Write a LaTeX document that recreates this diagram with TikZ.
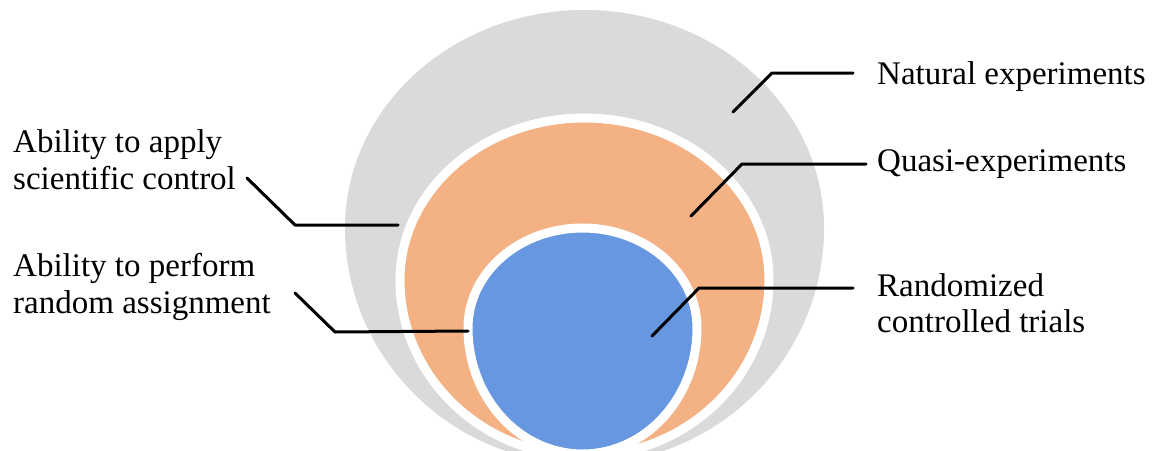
\documentclass[tikz,border=0pt]{standalone}
\usepackage{fontspec}
\setmainfont{Liberation Serif}
\definecolor{grayfill}{HTML}{DADADA}
\definecolor{orangefill}{HTML}{F3B184}
\definecolor{bluefill}{HTML}{6797E0}
\tikzset{
  lbl/.style={inner sep=0pt, align=left, font=\fontsize{33}{36.5}\selectfont},
  leader/.style={line width=3pt, line cap=round, line join=round, black},
  blob/.style={line width=9pt, draw=white}
}
\begin{document}
\begin{tikzpicture}[x=1pt,y=-1pt]
\clip (0,0) rectangle (1167,450);
\fill[white] (0,0) rectangle (1167,450);
% outer gray region
\fill[grayfill] (345,228)
  arc[start angle=180, end angle=0, x radius=239.5pt, y radius=218pt]
  arc[start angle=0, end angle=-180, x radius=239.5pt, y radius=236pt] -- cycle;
% orange region
\filldraw[blob, fill=orangefill] (400,280)
  arc[start angle=180, end angle=0, x radius=184.5pt, y radius=162pt]
  arc[start angle=0, end angle=-180, x radius=184.5pt, y radius=176pt] -- cycle;
% blue region
\filldraw[blob, fill=bluefill] (468,328)
  arc[start angle=180, end angle=0, x radius=114.5pt, y radius=100pt]
  arc[start angle=0, end angle=-180, x radius=114.5pt, y radius=126pt] -- cycle;
% labels
\node[lbl, anchor=base west] (nat) at (877,84) {Natural experiments};
\node[lbl, anchor=base west] (qua) at (877,171) {Quasi-experiments};
\node[lbl, anchor=north west] (rct) at (877,273) {Randomized\\controlled trials};
\node[lbl, anchor=north west] (sci) at (13,129.5) {Ability to apply\\scientific control};
\node[lbl, anchor=north west] (ran) at (13,253.5) {Ability to perform\\random assignment};
% connector points
\coordinate (n0) at (733,112); \coordinate (n1) at (772,73); \coordinate (n2) at (853,73);
\coordinate (q0) at (691,216); \coordinate (q1) at (742,164); \coordinate (q2) at (866,164);
\coordinate (r0) at (652,336); \coordinate (r1) at (699,288); \coordinate (r2) at (853,288);
\coordinate (s0) at (247,178); \coordinate (s1) at (295,225); \coordinate (s2) at (398,225);
\coordinate (a0) at (295,293); \coordinate (a1) at (335,332); \coordinate (a2) at (468,331);
\draw[leader] (n0) -- (n1) -- (n2);
\draw[leader] (q0) -- (q1) -- (q2);
\draw[leader] (r0) -- (r1) -- (r2);
\draw[leader] (s0) -- (s1) -- (s2);
\draw[leader] (a0) -- (a1) -- (a2);
\end{tikzpicture}
\end{document}
